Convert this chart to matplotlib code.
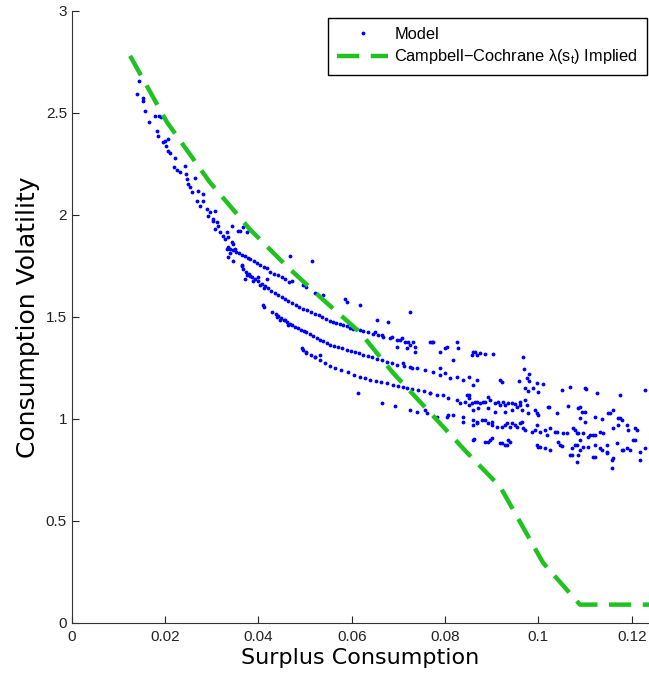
import matplotlib
matplotlib.use("Agg")
import matplotlib.pyplot as plt

plt.rcParams['font.family'] = ['Liberation Sans', 'DejaVu Sans']
plt.rcParams['mathtext.default'] = 'regular'

# --- data ---
# dense band at low surplus consumption
band = [(.0144, 2.656), (.0140, 2.592), (.0152, 2.572), (.0152, 2.558), (.0156, 2.509), (.0165, 2.455),
        (.0178, 2.484), (.0186, 2.484), (.0192, 2.479), (.0182, 2.410), (.0184, 2.386), (.0200, 2.361),
        (.0206, 2.371), (.0196, 2.356), (.0202, 2.337), (.0206, 2.312), (.0210, 2.302), (.0221, 2.278),
        (.0219, 2.234), (.0225, 2.219), (.0232, 2.209), (.0242, 2.239), (.0244, 2.199), (.0246, 2.175),
        (.0248, 2.150), (.0253, 2.136), (.0257, 2.111), (.0265, 2.180), (.0270, 2.116), (.0281, 2.101),
        (.0268, 2.067), (.0275, 2.042), (.0281, 2.067), (.0290, 2.027), (.0296, 2.013), (.0307, 2.018),
        (.0292, 1.993), (.0302, 1.978), (.0311, 1.964), (.0313, 1.944), (.0307, 1.929), (.0317, 1.915),
        (.0324, 1.895), (.0332, 1.915), (.0302, 1.969), (.0328, 1.880), (.0334, 1.890), (.0343, 1.870),
        (.0332, 1.831), (.0338, 1.816), (.0345, 1.856), (.0349, 1.831), (.0334, 1.792), (.0345, 1.772),
        (.0361, 1.920), (.0365, 1.757), (.0375, 1.708), (.0371, 1.684), (.0382, 1.699), (.0388, 1.674),
        (.0399, 1.694), (.0403, 1.659), (.0413, 1.644), (.0418, 1.684), (.0409, 1.561), (.0440, 1.502),
        (.0446, 1.487), (.0457, 1.487), (.0463, 1.463), (.0493, 1.350), (.0503, 1.325), (.0521, 1.306),
        (.0532, 1.316), (.0467, 1.797), (.0515, 1.772), (.0472, 1.674), (.0503, 1.649), (.0521, 1.620),
        (.0538, 1.610), (.0585, 1.586), (.0590, 1.571), (.0618, 1.561), (.0654, 1.487), (.0678, 1.473),
        (.0724, 1.522), (.0613, 1.129), (.0365, 1.748), (.0413, 1.551), (.0495, 1.659), (.0343, 1.944),
        (.0356, 1.920), (.0367, 1.939), (.0375, 1.915)]

strand1_x = [.0334, .0340, .0346, .0352, .0359, .0365, .0371, .0377, .0383, .0390, .0397, .0404, .0411,
             .0418, .0425, .0434, .0442, .0450, .0458, .0466]
strand1_y = [1.843, 1.835, 1.828, 1.820, 1.812, 1.805, 1.798, 1.791, 1.782, 1.773, 1.764, 1.756, 1.747,
             1.739, 1.722, 1.713, 1.704, 1.695, 1.684, 1.672]

strand2_x = [.0367, .0373, .0379, .0386, .0393, .0400, .0407, .0414, .0421, .0428, .0436, .0443, .0450,
             .0457, .0464, .0472, .0480, .0488, .0496, .0504, .0513, .0521, .0529, .0537, .0545, .0553,
             .0560, .0567, .0574, .0581, .0589, .0596, .0603, .0610, .0617, .0624, .0634, .0645, .0656,
             .0666, .0681, .0697]
strand2_y = [1.733, 1.720, 1.709, 1.697, 1.685, 1.674, 1.662, 1.651, 1.640, 1.628, 1.617, 1.607, 1.598,
             1.587, 1.577, 1.568, 1.559, 1.550, 1.541, 1.533, 1.524, 1.516, 1.508, 1.500, 1.490, 1.480,
             1.475, 1.469, 1.465, 1.460, 1.454, 1.448, 1.443, 1.440, 1.434, 1.429, 1.424, 1.418, 1.410,
             1.404, 1.396, 1.385]

strand3_x = [.0430, .0437, .0443, .0449, .0455, .0461, .0467, .0473, .0479, .0485, .0491, .0497, .0503,
             .0510, .0518, .0525, .0532, .0539, .0546, .0553, .0562, .0571, .0580, .0590, .0599, .0608,
             .0616, .0624, .0634, .0644, .0654, .0664, .0676, .0687, .0697, .0711, .0725, .0739, .0758,
             .0775, .0789]
strand3_y = [1.522, 1.513, 1.503, 1.494, 1.486, 1.477, 1.468, 1.460, 1.452, 1.445, 1.437, 1.430, 1.424,
             1.415, 1.406, 1.397, 1.389, 1.381, 1.373, 1.365, 1.359, 1.352, 1.346, 1.340, 1.334, 1.328,
             1.322, 1.316, 1.309, 1.302, 1.295, 1.288, 1.281, 1.274, 1.267, 1.262, 1.257, 1.252, 1.240,
             1.228, 1.217]

strand4_x = [.0495, .0503, .0513, .0522, .0532, .0543, .0553, .0565, .0577, .0591, .0604, .0617, .0628,
             .0639, .0651, .0663, .0676, .0688, .0699, .0709, .0718, .0729, .0741, .0755, .0768]
strand4_y = [1.340, 1.327, 1.315, 1.302, 1.288, 1.275, 1.262, 1.251, 1.240, 1.229, 1.218, 1.207, 1.200,
             1.193, 1.186, 1.180, 1.175, 1.168, 1.163, 1.158, 1.154, 1.148, 1.142, 1.135, 1.129]

# scattered cloud at high surplus consumption
cloud = [(.0686, 1.404), (.0707, 1.399), (.0720, 1.375), (.0731, 1.379), (.0718, 1.350), (.0735, 1.330),
         (.0768, 1.379), (.0774, 1.375), (.0789, 1.330), (.0799, 1.350), (.0825, 1.375), (.0827, 1.350),
         (.0860, 1.330), (.0868, 1.316), (.0816, 1.291), (.0789, 1.252), (.0799, 1.227), (.0810, 1.203),
         (.0825, 1.208), (.0838, 1.193), (.0852, 1.208), (.0846, 1.119), (.0852, 1.105), (.0868, 1.085),
         (.0664, 1.080), (.0693, 1.065), (.0724, 1.046), (.0739, 1.036), (.0761, 1.031), (.0782, 1.011),
         (.0804, 1.011), (.0816, 1.021), (.0838, 1.011), (.0860, 0.972), (.0649, 1.424), (.0664, 1.414),
         (.0703, 1.389), (.0714, 1.375), (.0724, 1.365), (.0735, 1.355), (.0697, 1.355), (.0710, 1.276),
         (.0729, 1.252), (.0772, 1.375), (.0804, 1.355), (.0975, 1.203),
         (.0768, 1.129), (.0782, 1.119), (.0795, 1.119), (.0806, 1.105), (.0825, 1.095), (.0832, 1.080),
         (.0843, 1.085), (.0852, 1.119), (.0858, 1.080), (.0864, 1.085), (.0874, 1.080), (.0885, 1.085),
         (.0896, 1.095), (.0907, 1.080), (.0918, 1.070), (.0928, 1.070), (.0943, 1.080), (.0954, 1.060),
         (.0960, 1.070), (.0971, 1.095), (.0975, 1.070), (.0993, 1.046), (.0997, 1.031), (.1020, 1.060),
         (.1039, 1.031), (.1068, 1.159), (.1100, 1.154), (.1125, 1.129), (.1089, 1.060), (.1093, 1.036),
         (.0757, 1.046), (.0806, 1.021), (.0838, 0.987), (.0860, 0.997), (.0868, 0.982), (.0879, 0.997),
         (.0891, 0.982), (.0900, 0.987), (.0911, 0.962), (.0922, 0.962), (.0933, 0.982), (.0939, 0.962),
         (.0954, 0.962), (.0964, 0.987), (.0966, 0.957), (.0987, 0.938), (.0993, 0.947), (.1003, 0.938),
         (.1014, 0.947), (.1018, 0.923), (.1035, 0.938), (.1052, 0.933), (.1079, 0.947), (.1083, 0.933),
         (.1095, 0.933), (.1106, 0.913), (.1117, 0.923), (.1131, 0.938), (.0860, 0.898), (.0885, 0.889),
         (.0896, 0.898), (.0922, 0.884), (.0935, 0.898), (.0933, 0.874), (.0939, 0.889), (.0997, 0.874),
         (.1003, 0.864), (.1014, 0.859), (.1025, 0.849), (.1046, 0.874), (.1072, 0.859), (.1083, 0.874),
         (.1089, 0.849), (.1106, 0.864), (.1072, 0.825), (.1083, 0.790), (.1117, 0.815), (.1137, 0.849),
         (.1147, 0.839), (.1158, 0.800), (.1158, 0.761), (.1168, 0.884), (.1181, 0.849), (.1196, 0.849),
         (.1207, 0.898), (.1218, 0.839), (.1218, 0.800), (.1229, 0.859),
         (.0858, 1.316), (.0864, 1.330), (.0874, 1.325), (.0885, 1.320), (.0903, 1.320), (.0966, 1.306),
         (.0969, 1.247), (.0980, 1.222), (.0918, 1.193), (.0922, 1.183), (.0868, 1.193), (.0860, 1.168),
         (.0958, 1.188), (.0980, 1.188), (.0997, 1.178), (.1010, 1.173), (.0971, 1.154), (.0977, 1.139),
         (.0989, 1.154), (.0999, 1.134), (.1050, 1.144), (.1102, 1.149), (.0881, 1.085), (.0891, 1.110),
         (.0914, 1.085), (.0924, 1.085), (.0935, 1.080), (.0950, 1.075), (.0960, 1.085), (.0964, 1.046),
         (.0977, 1.031), (.0999, 1.021), (.1023, 1.060), (.1064, 1.065), (.1085, 1.055), (.1100, 1.036),
         (.1089, 1.006), (.1100, 0.987), (.1121, 1.011), (.1137, 1.001), (.1149, 1.031), (.1160, 1.046),
         (.1171, 1.006), (.1179, 0.997), (.0852, 1.070), (.0860, 1.046), (.0870, 1.055), (.0891, 1.055),
         (.0907, 1.036), (.0928, 1.036), (.0943, 1.046), (.0868, 0.987), (.0885, 0.997), (.0900, 0.972),
         (.0928, 0.972), (.0943, 0.982), (.0950, 0.972), (.0960, 0.982), (.0971, 0.947), (.0997, 0.972),
         (.1025, 0.957), (.1039, 0.938), (.1062, 0.933), (.1074, 0.957), (.1085, 0.933), (.1110, 0.923),
         (.1121, 0.923), (.1139, 0.933), (.1160, 0.957), (.1171, 0.972), (.1190, 0.972), (.1207, 0.957),
         (.1212, 0.947), (.0862, 0.903), (.0891, 0.889), (.0900, 0.908), (.0918, 0.884), (.0928, 0.874),
         (.0999, 0.864), (.1042, 0.889), (.1050, 0.869), (.1079, 0.874), (.1089, 0.898), (.1095, 0.864),
         (.1121, 0.874), (.1131, 0.859), (.1147, 0.874), (.1179, 0.849), (.1190, 0.859), (.1202, 0.898),
         (.1068, 0.825), (.1121, 0.815), (.1147, 0.835), (.1160, 0.810), (.1085, 0.825), (.1154, 1.031),
         (.1175, 1.006), (.1192, 0.947), (.1229, 1.144), (.1175, 1.119)]

# Campbell-Cochrane implied sensitivity
cc_x = [0.0125, 0.0204, 0.0296, 0.0382, 0.0461, 0.0538, 0.0618, 0.0688, 0.0768, 0.0847, 0.0918, 0.1010,
        0.1089, 0.1300]
cc_y = [2.78, 2.455, 2.16, 1.929, 1.748, 1.586, 1.424, 1.227, 1.031, 0.835, 0.668, 0.295, 0.090, 0.090]

xticks = [0, 0.02, 0.04, 0.06, 0.08, 0.1, 0.12]
xtick_labels = ['0', '0.02', '0.04', '0.06', '0.08', '0.1', '0.12']
yticks = [0, 0.5, 1, 1.5, 2, 2.5, 3]
ytick_labels = ['0', '0.5', '1', '1.5', '2', '2.5', '3']

model_x = [p[0] for p in band] + strand1_x + strand2_x + strand3_x + strand4_x + [p[0] for p in cloud]
model_y = [p[1] for p in band] + strand1_y + strand2_y + strand3_y + strand4_y + [p[1] for p in cloud]

fig = plt.figure(figsize=(6.49, 6.74), dpi=100)
ax = fig.add_axes([0.1106, 0.0757, 0.8894, 0.9080])

ax.plot(model_x, model_y, '.', color='#0000ff', markersize=3.5, label='Model', zorder=2)
ax.plot(cc_x, cc_y, color='#1fc21f', lw=3.2, dashes=(5, 2.6),
        label='Campbell\u2212Cochrane \u03bb(s$_t$) Implied', zorder=3)

ax.set_xlim(0, 0.1237)
ax.set_ylim(0, 3)
ax.set_xticks(xticks)
ax.set_xticklabels(xtick_labels)
ax.set_yticks(yticks)
ax.set_yticklabels(ytick_labels)
ax.tick_params(direction='in', length=5, labelsize=11, colors='#222222')
ax.tick_params(axis='x', pad=5)
ax.spines['top'].set_visible(False)
ax.spines['right'].set_visible(False)
for s in ['left', 'bottom']:
    ax.spines[s].set_color('#333333')

ax.set_xlabel('Surplus Consumption', fontsize=16, family='DejaVu Sans', labelpad=3)
ax.set_ylabel('Consumption Volatility', fontsize=18, family='DejaVu Sans', labelpad=4)

leg = ax.legend(loc='upper right', bbox_to_anchor=(647 / 649, 1 - 18 / 674), bbox_transform=fig.transFigure,
                borderaxespad=0, fancybox=False, edgecolor='black', framealpha=1, fontsize=11.8,
                numpoints=1, handlelength=3.1, handletextpad=0.4, labelspacing=0.32, borderpad=0.55)
leg.get_frame().set_linewidth(1.0)

fig.savefig('out.png', dpi=100)
